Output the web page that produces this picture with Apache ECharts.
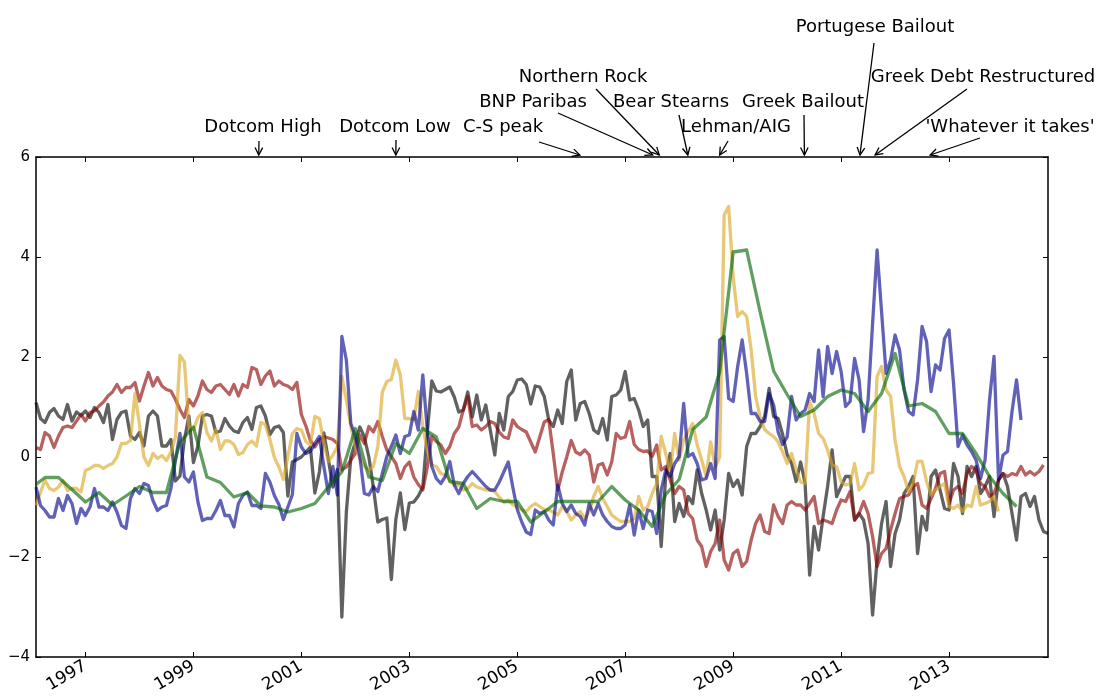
<!DOCTYPE html>
<html>
<head>
<meta charset="utf-8">
<script src="https://cdn.jsdelivr.net/npm/echarts@6/dist/echarts.min.js"></script>
<style>
  html, body { margin: 0; padding: 0; background: #ffffff; }
  #chart { width: 1098px; height: 700px; }
</style>
</head>
<body>
<div id="chart"></div>
<script>
// Monthly observations, index 0 = January 1996 (plotted at month end).
const startYear = 1996;

// Year ticks on the date axis
const yearTicks = [1997, 1999, 2001, 2003, 2005, 2007, 2009, 2011, 2013];

// Grey series, Jan 1996 - Oct 2014
const grayValues = [
  1.09, 0.77, 0.69, 0.89, 0.97, 0.82, 0.75, 1.05, 0.72, 0.90, 0.83, 0.92,
  0.79, 0.99, 0.89, 0.69, 1.05, 0.35, 0.75, 0.89, 0.92, 0.42, 0.35, 0.49,
  0.22, 0.82, 0.92, 0.82, 0.22, 0.22, 0.35, -0.48, -0.38, 0.35, 0.82, -0.11,
  0.22, 0.82, 0.85, 0.82, 0.49, 0.52, 0.77, 0.62, 0.52, 0.49, 0.69, 0.79,
  0.55, 0.99, 1.02, 0.82, 0.45, 0.59, 0.62, 0.49, -0.78, -0.10, -0.05, 0.00,
  0.10, 0.20, -0.72, -0.30, 0.48, -0.05, -0.60, -0.25, -3.20, -1.10, 0.00, 0.30,
  0.60, 0.40, 0.00, -0.60, -1.30, -1.25, -1.22, -2.45, -1.25, -0.72, -1.45, -0.92,
  -0.90, -0.78, -0.60, 0.50, 1.52, 1.32, 1.30, 1.35, 1.40, 1.20, 0.90, 0.94,
  1.30, 0.80, 1.24, 0.74, 1.04, 0.54, 0.04, 0.87, 0.54, 1.21, 1.31, 1.54,
  1.56, 1.45, 1.06, 1.42, 1.40, 1.21, 0.74, 0.61, 0.94, 0.67, 1.51, 1.74,
  0.74, 1.07, 1.11, 0.87, 0.54, 0.47, 0.77, 0.34, 1.21, 1.24, 1.34, 1.71,
  1.14, 1.17, 0.94, 0.61, 0.74, -0.39, -0.39, -1.79, -0.39, 0.07, -1.29, -0.93,
  -1.19, -0.79, -0.93, -0.26, -0.73, -1.06, -1.46, -1.06, -1.86, -1.26, -0.33, -0.59,
  -0.46, -0.76, 0.21, 0.47, 0.47, 0.61, 0.81, 1.37, 0.81, 0.77, 0.45, 0.05,
  -0.13, -0.49, -0.10, -0.53, -2.36, -1.39, -1.86, -1.19, -0.59, 0.14, -0.79, -0.59,
  -0.39, -0.39, -1.26, -1.13, -1.26, -1.73, -3.16, -2.06, -1.33, -0.89, -2.19, -1.53,
  -1.26, -0.73, -0.59, -0.39, -1.93, -1.19, -1.46, -0.39, -0.26, -0.66, -1.03, -1.06,
  -0.13, -0.39, -1.13, -0.19, -0.39, -0.19, -0.73, -0.59, -0.39, -1.19, -0.46, -0.33,
  -0.59, -1.13, -1.66, -0.79, -0.73, -0.99, -0.79, -1.26, -1.49, -1.53
];

// Red series, Jan 1996 - Sep 2014
const redValues = [
  0.19, 0.15, 0.49, 0.42, 0.19, 0.42, 0.59, 0.62, 0.59, 0.72, 0.85, 0.72,
  0.89, 0.92, 1.02, 1.10, 1.22, 1.30, 1.45, 1.29, 1.39, 1.39, 1.49, 1.12,
  1.42, 1.69, 1.42, 1.59, 1.42, 1.35, 1.32, 1.15, 0.95, 0.79, 1.15, 1.02,
  1.22, 1.52, 1.35, 1.29, 1.42, 1.45, 1.35, 1.25, 1.45, 1.22, 1.45, 1.39,
  1.79, 1.75, 1.45, 1.62, 1.72, 1.42, 1.52, 1.45, 1.42, 1.35, 1.49, 0.85,
  0.62, 0.33, 0.20, 0.35, 0.41, 0.38, 0.35, 0.27, -0.26, -0.20, -0.06, 0.07,
  0.44, 0.27, 0.61, 0.50, 0.71, 0.41, 0.14, 0.01, -0.13, -0.43, -0.20, -0.10,
  -0.40, -0.55, -0.66, -0.20, 0.41, 0.31, 0.24, 0.07, 0.21, 0.47, 0.60, 0.94,
  1.21, 0.61, 0.64, 0.54, 0.61, 0.71, 0.67, 0.50, 0.40, 0.37, 0.74, 0.61,
  0.55, 0.50, 0.30, 0.10, 0.40, 0.70, 0.75, 0.07, -0.66, -0.30, 0.00, 0.33,
  0.10, 0.05, 0.14, 0.04, -0.50, -0.16, -0.13, -0.36, -0.10, 0.47, 0.37, 0.40,
  0.71, 0.25, 0.15, 0.11, 0.12, 0.01, 0.24, -0.26, -0.19, -0.46, -0.73, -0.59,
  -0.66, -1.13, -1.23, -1.66, -1.79, -2.19, -1.89, -1.73, -1.26, -2.06, -2.26, -1.93,
  -1.86, -2.19, -2.09, -1.66, -1.33, -1.16, -1.49, -1.53, -0.96, -1.19, -1.33, -0.96,
  -0.89, -0.96, -0.96, -1.06, -0.93, -0.79, -1.33, -1.26, -1.29, -1.33, -1.06, -0.86,
  -0.89, -0.69, -1.26, -1.13, -0.89, -1.13, -1.59, -2.19, -1.93, -1.83, -1.46, -1.13,
  -0.83, -0.79, -0.76, -0.59, -0.53, -0.96, -1.03, -0.83, -0.63, -0.33, -0.29, -0.93,
  -0.66, -0.59, -0.73, -0.33, -0.19, -0.26, -0.53, -0.59, -0.79, -0.73, -0.46, -0.33,
  -0.39, -0.33, -0.36, -0.19, -0.36, -0.29, -0.36, -0.29, -0.16
];

// Gold series, Jan 1996 - Nov 2013
const goldValues = [
  -0.97, -0.70, -0.47, -0.63, -0.67, -0.60, -0.47, -0.67, -0.63, -0.63, -0.70, -0.27,
  -0.23, -0.17, -0.17, -0.23, -0.17, -0.13, 0.00, 0.27, 0.27, 0.33, 1.27, 0.65,
  0.00, -0.17, 0.07, -0.03, 0.03, -0.07, 0.10, 0.40, 2.03, 1.90, 0.60, 0.55,
  0.79, 0.89, 0.49, 0.32, 0.55, 0.15, 0.32, 0.32, 0.25, 0.05, 0.09, 0.25,
  0.32, 0.22, 0.69, 0.65, 0.35, -0.01, -0.20, -0.45, 0.01, 0.47, 0.57, 0.54,
  0.31, 0.24, 0.81, 0.77, 0.27, -0.09, 0.04, 0.20, 1.61, 1.14, 0.61, 0.21,
  -0.03, -0.19, -0.26, -0.19, 0.21, 1.30, 1.51, 1.55, 1.94, 1.64, 0.77, 0.77,
  0.74, 1.31, 0.61, 0.14, -0.16, -0.19, -0.33, -0.36, -0.46, -0.56, -0.56, -0.66,
  -0.63, -0.53, -0.60, -0.63, -0.66, -0.66, -0.69, -0.80, -0.90, -0.86, -0.95, -1.00,
  -1.06, -1.09, -0.99, -0.93, -0.99, -1.05, -1.06, -1.10, -1.16, -0.99, -1.09, -1.26,
  -1.16, -1.09, -1.23, -1.09, -0.79, -0.59, -0.83, -0.99, -1.16, -1.23, -1.29, -1.29,
  -1.29, -1.23, -0.79, -1.06, -0.99, -0.73, -0.53, 0.41, 0.07, -0.33, 0.47, -0.06,
  0.34, 0.51, 0.67, 0.24, -0.06, -0.39, 0.30, -0.20, 0.00, 4.84, 5.01, 3.60,
  2.81, 2.91, 2.81, 2.14, 1.21, 0.80, 0.55, 0.47, 0.41, 0.30, 0.10, -0.13,
  0.07, -0.26, -0.50, -0.53, 1.11, 0.87, 0.47, 0.37, 0.14, -0.16, -0.19, -0.49,
  -0.56, -0.53, -0.13, -0.66, -0.56, -0.33, -0.31, 1.61, 1.81, 1.34, 1.21, 0.34,
  -0.19, -0.39, -0.69, -0.53, -0.09, -0.09, -0.49, -0.76, -0.66, -0.59, -0.53, -0.99,
  -1.03, -0.96, -1.09, -0.96, -0.99, -0.59, -0.96, -0.93, -0.89, -0.79, -1.09
];

// Blue series, Jan 1996 - Apr 2014
const blueValues = [
  -0.60, -0.97, -1.07, -1.20, -1.20, -0.83, -1.07, -0.77, -0.93, -1.33, -1.03, -1.17,
  -1.00, -0.63, -1.00, -1.00, -1.07, -0.90, -1.10, -1.37, -1.43, -0.83, -0.63, -0.73,
  -0.53, -0.57, -0.87, -1.07, -1.00, -0.97, -0.63, -0.07, 0.47, -0.40, -0.50, -0.30,
  -0.90, -1.27, -1.23, -1.23, -1.07, -0.87, -1.17, -1.17, -1.40, -0.93, -0.77, -0.70,
  -0.97, -0.97, -1.03, -0.33, -0.50, -0.77, -0.95, -1.25, -1.00, -0.75, 0.47, 0.20,
  0.07, 0.11, 0.27, 0.41, -0.19, -0.73, -0.19, -0.76, 2.41, 1.94, 0.67, 0.41,
  0.01, -0.73, -0.76, -0.59, -0.69, -0.33, 0.01, 0.21, 0.44, 0.07, 0.41, 0.44,
  0.91, 0.54, 1.64, 0.54, -0.19, -0.43, -0.53, -0.39, -0.09, -0.56, -0.73, -0.53,
  -0.39, -0.29, -0.39, -0.49, -0.59, -0.66, -0.66, -0.50, -0.30, -0.10, -0.60, -1.05,
  -1.30, -1.50, -1.55, -1.06, -1.13, -1.09, -1.26, -1.36, -0.56, -0.93, -1.09, -0.96,
  -1.13, -1.19, -1.36, -0.93, -1.16, -0.93, -1.16, -1.29, -1.39, -1.43, -1.43, -1.36,
  -0.96, -1.56, -1.06, -1.43, -1.06, -1.09, -1.53, -0.66, -0.26, -0.39, -0.13, 0.01,
  1.07, 0.01, 0.07, -0.13, -0.46, -0.43, -0.13, -0.43, 2.34, 2.41, 1.17, 1.11,
  1.81, 2.34, 1.67, 0.87, 0.87, 0.71, 0.71, 1.27, 1.04, 0.50, 0.25, 0.40,
  1.21, 0.74, 0.87, 0.94, 1.27, 1.11, 2.14, 1.21, 2.21, 1.67, 2.11, 1.71,
  1.01, 1.11, 1.97, 1.54, 0.51, 1.14, 2.67, 4.14, 2.90, 1.67, 1.94, 2.44,
  2.14, 1.34, 0.91, 0.84, 1.54, 2.61, 2.31, 1.31, 1.84, 1.74, 2.37, 2.54,
  1.47, 0.21, 0.44, 0.24, 0.11, -0.06, -0.43, -0.06, 1.14, 2.01, -0.46, 0.04,
  0.11, 0.91, 1.54, 0.74
];

// Green series: January 1996, then quarter ends (Mar 1996 - Mar 2014)
const greenValues = [
  -0.55,
  -0.41, -0.41, -0.65, -0.90, -0.71, -0.96, -0.78, -0.59, -0.71, -0.71, 0.30, 0.60,
  -0.40, -0.51, -0.80, -0.71, -0.98, -1.00, -1.10, -1.03, -0.93, -0.60, -0.30, 0.57,
  -0.40, -0.47, 0.27, 0.07, 0.57, 0.40, -0.49, -0.53, -1.03, -0.83, -0.89, -0.89,
  -1.30, -1.10, -0.89, -0.89, -0.89, -0.89, -0.59, -0.86, -1.06, -1.39, -0.75, -0.45,
  0.55, 0.80, 1.70, 4.10, 4.14, 2.90, 1.72, 1.25, 0.81, 0.94, 1.21, 1.34,
  1.27, 0.91, 1.27, 2.07, 1.02, 1.07, 0.91, 0.47, 0.47, 0.07, -0.39, -0.73,
  -0.99
];

// Events marked above the plot, with the date each arrow points to
const eventNames = [
  'Dotcom High', 'Dotcom Low', 'C-S peak', 'BNP Paribas', 'Northern Rock',
  'Bear Stearns', 'Lehman/AIG', 'Greek Bailout', 'Portugese Bailout',
  'Greek Debt Restructured', "'Whatever it takes'"
];
const eventDates = [2000.21, 2002.75, 2006.16, 2007.51, 2007.63, 2008.16, 2008.75, 2010.32, 2011.35, 2011.63, 2012.65];

// Annotation layout (pixels): text centre x, text middle y, arrow tail x, arrow tail y
const eventLayout = [
  [263, 127, 259, 141], [395, 127, 396, 140], [503, 127, 539, 142],
  [533, 102, 558, 113], [583, 77, 596, 89], [671, 102, 679, 115],
  [736, 127, 728, 141], [803, 102, 804, 115], [875, 27, 874, 43],
  [983, 77, 967, 89], [1010, 127, 980, 138]
];

function monthToYear(i) { return startYear + (i + 1) / 12; }
function monthly(values) { return values.map((v, i) => [monthToYear(i), v]); }
function quarterly(values) {
  return values.map((v, k) => [monthToYear(k === 0 ? 0 : 3 * k - 1), v]);
}

const FONT = 'DejaVu Sans';
const xMin = monthToYear(0);
const xMax = monthToYear(grayValues.length - 1);

const chart = echarts.init(document.getElementById('chart'), null, { renderer: 'canvas' });

const frameLine = { show: true, onZero: false, lineStyle: { color: '#000', width: 1.5 } };
const innerTick = (vals) => {
  const t = { show: true, inside: true, length: 5, lineStyle: { color: '#000', width: 1 } };
  if (vals) t.customValues = vals;
  return t;
};

function line(data, color, z) {
  return {
    type: 'line', data: data, symbol: 'none', showSymbol: false, z: z,
    lineStyle: { color: color, width: 3.3, join: 'round' },
    emphasis: { disabled: true }, animation: false, clip: true
  };
}

const option = {
  animation: false,
  textStyle: { fontFamily: FONT },
  grid: { left: 36, top: 157, width: 1012, height: 500, containLabel: false },
  xAxis: [
    {
      type: 'value', min: xMin, max: xMax, position: 'bottom',
      axisLine: frameLine, axisTick: innerTick(yearTicks),
      axisLabel: {
        customValues: yearTicks, rotate: 30, margin: 8, color: '#000',
        fontSize: 17, fontFamily: FONT, formatter: (v) => String(Math.round(v))
      },
      splitLine: { show: false }
    },
    {
      type: 'value', min: xMin, max: xMax, position: 'top',
      axisLine: frameLine, axisTick: innerTick(yearTicks),
      axisLabel: { show: false }, splitLine: { show: false }
    }
  ],
  yAxis: [
    {
      type: 'value', min: -4, max: 6, interval: 2, position: 'left',
      axisLine: frameLine, axisTick: innerTick(),
      axisLabel: {
        color: '#000', fontSize: 15, fontFamily: FONT, margin: 6,
        formatter: (v) => (v < 0 ? '\u2212' + Math.abs(v) : String(v))
      },
      splitLine: { show: false }
    },
    {
      type: 'value', min: -4, max: 6, interval: 2, position: 'right',
      axisLine: frameLine, axisTick: innerTick(),
      axisLabel: { show: false }, splitLine: { show: false }
    }
  ],
  series: [
    line(monthly(grayValues), 'rgba(0,0,0,0.62)', 2),
    line(monthly(redValues), 'rgba(139,0,0,0.62)', 3),
    line(monthly(goldValues), 'rgba(218,165,32,0.62)', 4),
    line(monthly(blueValues), 'rgba(0,0,139,0.62)', 5),
    line(quarterly(greenValues), 'rgba(0,100,0,0.62)', 6)
  ]
};

chart.setOption(option);

// Event annotations: text plus an open-headed arrow ending at the top frame
const gridTop = 157;
const elements = [];
eventNames.forEach((name, k) => {
  const [tx, ty, ax, ay] = eventLayout[k];
  const tipX = chart.convertToPixel({ xAxisIndex: 0 }, eventDates[k]);
  const tipY = gridTop - 2;
  elements.push({
    type: 'text', z: 20,
    style: { text: name, x: tx, y: ty, fill: '#000', font: '18px "' + FONT + '"',
             align: 'center', verticalAlign: 'middle' }
  });
  elements.push({
    type: 'line', z: 20,
    shape: { x1: ax, y1: ay, x2: tipX, y2: tipY },
    style: { stroke: '#000', lineWidth: 1.3 }
  });
  const dx = tipX - ax, dy = tipY - ay;
  const len = Math.sqrt(dx * dx + dy * dy);
  const ux = dx / len, uy = dy / len;
  const hl = 7.5, hw = 3.8;
  elements.push({
    type: 'polyline', z: 20,
    shape: { points: [
      [tipX - hl * ux + hw * uy, tipY - hl * uy - hw * ux],
      [tipX, tipY],
      [tipX - hl * ux - hw * uy, tipY - hl * uy + hw * ux]
    ] },
    style: { stroke: '#000', lineWidth: 1.3, fill: null }
  });
});
chart.setOption({ graphic: { elements: elements } });
</script>
</body>
</html>
